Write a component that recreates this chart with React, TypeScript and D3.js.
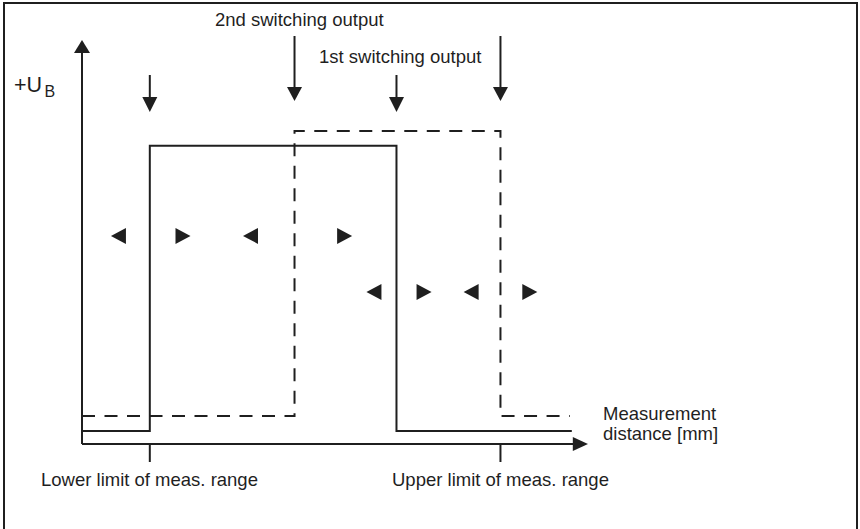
import React from 'react';
import * as d3 from 'd3';

// switching characteristic, x = distance units (0..100), y = signal level (0..100)
const output1Points: [number, number][] = [
  [0, 3.2], [13.4, 3.2], [13.4, 73.8], [62.15, 73.8], [62.15, 3.2], [96.8, 3.2],
];
const output2Points: [number, number][] = [
  [0, 6.9], [42.0, 6.9], [42.0, 77.5], [82.7, 77.5], [82.7, 6.9], [96.4, 6.9],
];

const limitPositions = [13.4, 82.7];
const limitLabels = ['Lower limit of meas. range', 'Upper limit of meas. range'];

// switch point markers
const smallArrowX = [13.4, 62.15];
const largeArrowX = [42.0, 82.7];
const outputLabels = ['2nd switching output', '1st switching output'];

// adjustment triangles: [x, y, direction]
const triangles: [number, number, 'left' | 'right'][] = [
  [7.2, 51.5, 'left'], [19.96, 51.5, 'right'], [33.3, 51.5, 'left'], [51.9, 51.5, 'right'],
  [57.7, 37.6, 'left'], [67.6, 37.6, 'right'], [76.9, 37.6, 'left'], [88.5, 37.6, 'right'],
];

const W = 860;
const H = 529;
const ink = '#1f1f1f';
const font = '"Liberation Sans", Arial, sans-serif';

const App = () => {
  const x = d3.scaleLinear().domain([0, 100]).range([82, 588]);
  const y = d3.scaleLinear().domain([0, 100]).range([444, 40]);

  const line = d3.line<[number, number]>()
    .x(d => x(d[0]))
    .y(d => y(d[1]));

  const tri = (cx: number, cy: number, dir: string) => {
    const w = 7.5, h = 8;
    return dir === 'left'
      ? `M${cx - w},${cy} L${cx + w},${cy - h} L${cx + w},${cy + h} Z`
      : `M${cx + w},${cy} L${cx - w},${cy - h} L${cx - w},${cy + h} Z`;
  };

  const downArrow = (ax: number, top: number, tip: number, headLen: number, halfW: number) => (
    <g key={`a${ax}`}>
      <line x1={ax} x2={ax} y1={top} y2={tip - headLen + 1} stroke={ink} strokeWidth={2} />
      <path d={`M${ax},${tip} L${ax - halfW},${tip - headLen} L${ax + halfW},${tip - headLen} Z`} fill={ink} />
    </g>
  );

  const x0 = x(0), yBase = y(0);

  return (
    <svg width={W} height={H} style={{ position: 'absolute', left: 0, top: 0, background: '#fff' }}
      fontFamily={font}>
      <rect x={4} y={3} width={853} height={560} fill="none" stroke={ink} strokeWidth={2} />

      {/* axes */}
      <line x1={x0} x2={x0} y1={yBase} y2={y(96.8)} stroke={ink} strokeWidth={2} />
      <path d={`M${x0},${y(100)} L${x0 - 8},${y(96.8)} L${x0 + 8},${y(96.8)} Z`} fill={ink} />
      <line x1={x0} x2={x(97.3)} y1={yBase} y2={yBase} stroke={ink} strokeWidth={2} />
      <path d={`M${x(100)},${yBase} L${x(97)},${yBase - 7} L${x(97)},${yBase + 7} Z`} fill={ink} />

      {limitPositions.map(v => (
        <line key={v} x1={x(v)} x2={x(v)} y1={yBase} y2={yBase + 18} stroke={ink} strokeWidth={2} />
      ))}

      {/* outputs */}
      <path d={line(output2Points) ?? ''} fill="none" stroke={ink} strokeWidth={2} strokeDasharray="13 9.5" />
      <path d={line(output1Points) ?? ''} fill="none" stroke={ink} strokeWidth={2} />

      {smallArrowX.map(v => downArrow(x(v), 75, 112, 15, 7.5))}
      {largeArrowX.map(v => downArrow(x(v), 36, 101, 14, 7.5))}

      {triangles.map((t, i) => (
        <path key={i} d={tri(x(t[0]), y(t[1]), t[2])} fill={ink} />
      ))}

      {/* labels */}
      <g fill={ink} fontSize={18.5}>
        <text x={215} y={26}>{outputLabels[0]}</text>
        <text x={319} y={63}>{outputLabels[1]}</text>
        <text x={41} y={486}>{limitLabels[0]}</text>
        <text x={392} y={486}>{limitLabels[1]}</text>
        <text x={603} y={420}>Measurement</text>
        <text x={603} y={440}>distance [mm]</text>
        <text x={14} y={92} fontSize={21.5}>+U</text>
        <text x={44.5} y={97} fontSize={16}>B</text>
      </g>
    </svg>
  );
};

export default App;
